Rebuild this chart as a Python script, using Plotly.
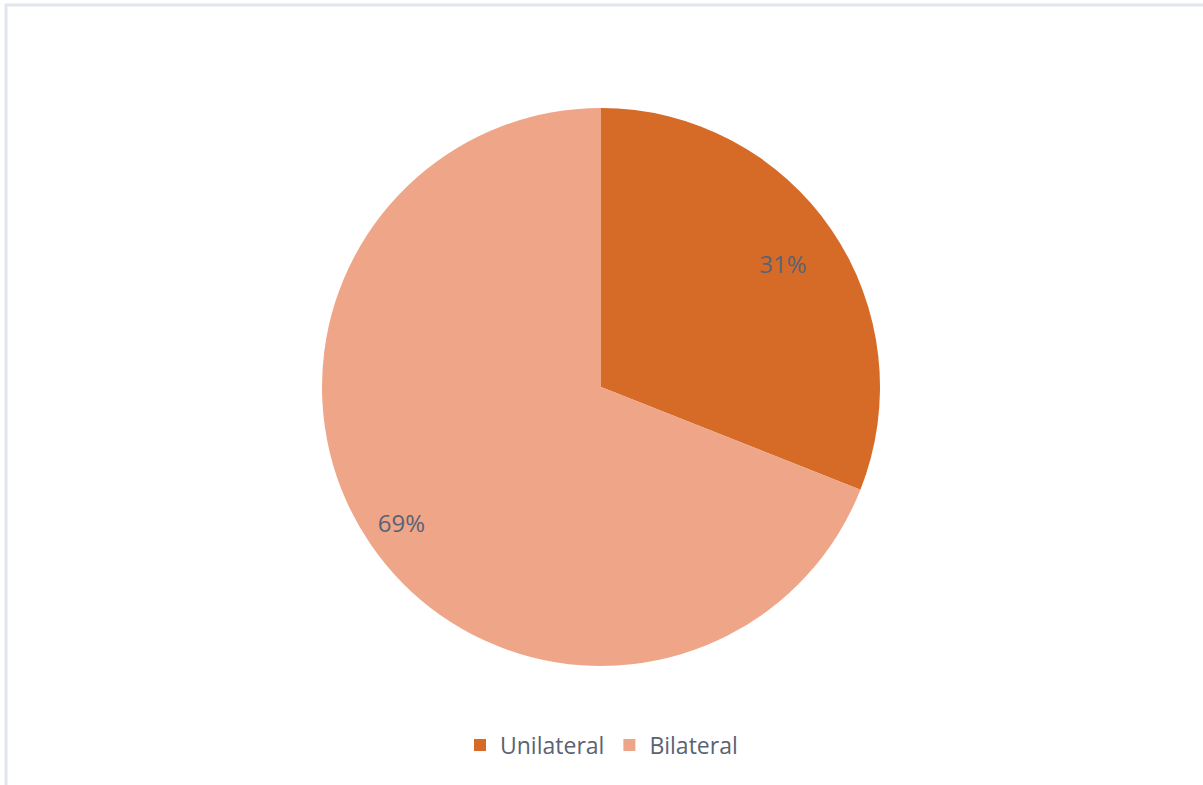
import plotly.graph_objects as go

labels = ["Unilateral", "Bilateral"]
values = [31, 69]
colors = ["#d56b27", "#efa587"]

W, H = 1203, 785
FONT = "Open Sans, sans-serif"
TXT = "#5a6374"
dom = dict(x=[322 / W, 880 / W], y=[1 - 666 / H, 1 - 108 / H])

fig = go.Figure()
fig.add_trace(go.Pie(
    labels=labels,
    values=values,
    sort=False,
    direction="clockwise",
    rotation=0,
    marker=dict(colors=colors, line=dict(color="#ffffff", width=0)),
    textinfo="none",
    domain=dom,
    hoverinfo="label+percent",
))

# transparent overlay rings used only to position the percentage labels
for i, hole in enumerate([0.576, 0.73]):
    tmpl = ["" for _ in values]
    tmpl[i] = "%{percent:.0%}"
    fig.add_trace(go.Pie(
        labels=labels,
        values=values,
        sort=False,
        direction="clockwise",
        rotation=0,
        hole=hole,
        marker=dict(colors=["rgba(0,0,0,0)"] * len(values), line=dict(width=0)),
        texttemplate=tmpl,
        textposition="inside",
        insidetextorientation="horizontal",
        textfont=dict(family=FONT, size=24, color=TXT),
        domain=dom,
        hoverinfo="skip",
        showlegend=False,
    ))

fig.update_layout(
    width=W, height=H,
    margin=dict(l=0, r=0, t=0, b=0),
    paper_bgcolor="#ffffff",
    plot_bgcolor="#ffffff",
    showlegend=True,
    legend=dict(
        orientation="h",
        x=0.5, xanchor="center",
        y=1 - 745 / H, yanchor="middle",
        font=dict(family=FONT, size=23, color=TXT),
        itemwidth=30,
    ),
    shapes=[
        dict(type="line", xref="paper", yref="paper",
             x0=5 / W, x1=1, y0=1 - 5 / H, y1=1 - 5 / H,
             line=dict(color="#e1e6ee", width=3)),
        dict(type="line", xref="paper", yref="paper",
             x0=6 / W, x1=6 / W, y0=0, y1=1 - 4 / H,
             line=dict(color="#e1e6ee", width=3)),
    ],
)

fig.write_html("out.html")
